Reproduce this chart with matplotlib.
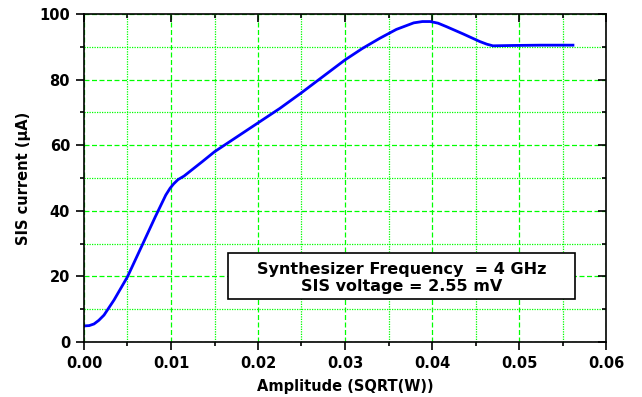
import numpy as np
import matplotlib.pyplot as plt
from matplotlib.patches import Rectangle
from matplotlib.ticker import MultipleLocator

# -------- DATA --------
amplitude = [0.0, 0.0006, 0.00115, 0.0017, 0.0023, 0.00345, 0.005, 0.0067, 0.0082,
             0.0094, 0.0099, 0.0103, 0.0108, 0.0115, 0.0136, 0.015, 0.0175, 0.020,
             0.0225, 0.025, 0.0275, 0.030, 0.032, 0.034, 0.0359, 0.0379, 0.0389,
             0.0398, 0.0407, 0.0417, 0.0436, 0.0455, 0.0463, 0.047, 0.0492, 0.0525,
             0.0562]
current = [4.9, 5.0, 5.5, 6.6, 8.2, 12.8, 19.9, 29.6, 38.2,
           44.8, 46.9, 48.2, 49.5, 50.6, 55.0, 58.0, 62.4, 66.8,
           71.2, 76.0, 81.0, 86.0, 89.5, 92.6, 95.3, 97.3, 97.7,
           97.7, 97.2, 96.1, 93.9, 91.6, 90.8, 90.3, 90.4, 90.5,
           90.5]

note_lines = ["Synthesizer Frequency  = 4 GHz", "SIS voltage = 2.55 mV"]

plt.rcParams["font.family"] = ["DejaVu Sans"]
plt.rcParams["font.weight"] = "bold"

fig = plt.figure(figsize=(6.42, 3.97), dpi=100)
ax = fig.add_axes([84 / 642, 1 - 342 / 397, (606 - 84) / 642, (342 - 14) / 397])

ax.plot(amplitude, current, color="#0000ff", linewidth=2, solid_joinstyle="round")

ax.set_xlim(0, 0.06)
ax.set_ylim(0, 100)
ax.xaxis.set_major_locator(MultipleLocator(0.01))
ax.xaxis.set_minor_locator(MultipleLocator(0.005))
ax.yaxis.set_major_locator(MultipleLocator(20))
ax.yaxis.set_minor_locator(MultipleLocator(10))
ax.xaxis.set_major_formatter(plt.FormatStrFormatter("%.2f"))

ax.grid(which="major", color="#00ff00", linestyle=(0, (4, 2)), linewidth=0.9)
ax.grid(which="minor", color="#00ff00", linestyle=(0, (1, 1)), linewidth=0.9)
ax.set_axisbelow(True)

for s in ax.spines.values():
    s.set_linewidth(1.2)

ax.tick_params(which="major", length=6, width=1.2, labelsize=10.5, pad=4)
ax.tick_params(which="minor", length=3, width=1.2)
ax.tick_params(which="both", top=True, right=True, direction="out")
for t in ax.xaxis.get_ticklines(minor=False)[1::2] + ax.xaxis.get_ticklines(minor=True)[1::2]:
    t.set_marker(3)  # top ticks inward
for t in ax.yaxis.get_ticklines(minor=False)[1::2] + ax.yaxis.get_ticklines(minor=True)[1::2]:
    t.set_marker(0)  # right ticks inward

ax.set_xlabel("Amplitude (SQRT(W))", fontsize=10.5, fontweight="bold", labelpad=6)
ax.set_ylabel("SIS current (\u00b5A)", fontsize=10.5, fontweight="bold", labelpad=6)

# annotation box
ax.add_patch(Rectangle((0.0166, 13.0), 0.0398, 14.0, facecolor="white",
                       edgecolor="black", linewidth=1.2, zorder=3))
ax.text(0.0365, 19.6, "\n".join(note_lines), ha="center", va="center",
        fontsize=11.5, fontweight="bold", linespacing=1.2, zorder=4)

fig.savefig("out.png", dpi=100)
